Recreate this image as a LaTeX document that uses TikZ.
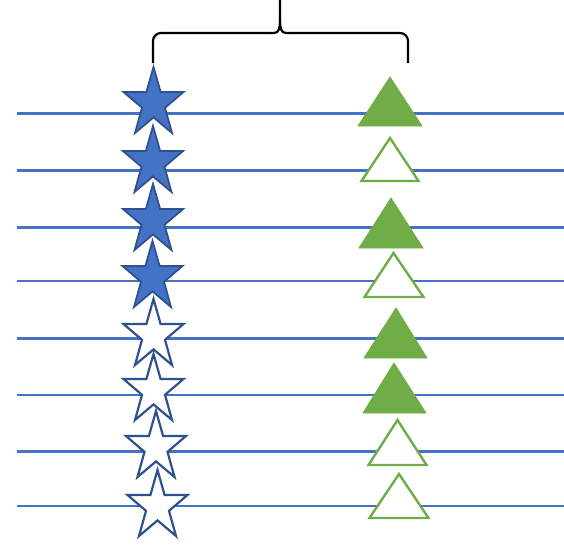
\documentclass[tikz,border=0pt]{standalone}
\usetikzlibrary{calc}
\definecolor{rulecol}{HTML}{4472C4}
\definecolor{starfill}{HTML}{4472C4}
\definecolor{starrim}{HTML}{2F528F}
\definecolor{trigreen}{HTML}{70AD47}
\tikzset{
  rowline/.style={draw=rulecol, line width=2.2pt},
  bracepath/.style={draw=black, line width=2.2pt},
  starfull/.style={draw=starrim, fill=starfill, line width=1.8pt, line join=miter},
  starhollow/.style={draw=starrim, fill=white, line width=2.2pt, line join=miter},
  trifull/.style={draw=trigreen, fill=trigreen, line width=0.8pt, line join=miter},
  trihollow/.style={draw=trigreen, fill=white, line width=2.4pt, line join=miter},
  % five-pointed star, origin at the top point, y growing downwards
  pics/starmark/.style={code={
    \path[#1] (0,0) -- (7.1,25) -- (30,25) -- (11.5,40.8) -- (18.5,66)
      -- (0,50.4) -- (-18.5,66) -- (-11.5,40.8) -- (-30,25) -- (-7.1,25) -- cycle;
  }},
}
\begin{document}
\begin{tikzpicture}[x=1pt, y=-1pt]
\useasboundingbox (0,0) rectangle (564,547);

% horizontal rows
\foreach \yy in {113.5,170.5,227.5,281,338.5,395,451.5,506}
  \draw[rowline] (17,\yy) -- (564,\yy);

% curly brace over both columns
\draw[bracepath, rounded corners=8pt] (153,63) -- (153,33) -- (268,33);
\draw[bracepath] (268,33) -- (274,33) .. controls (279,33) and (280,28) .. (280,20) -- (280,0);
\draw[bracepath, rounded corners=8pt] (408,63) -- (408,33) -- (292,33);
\draw[bracepath] (292,33) -- (286,33) .. controls (281,33) and (280,28) .. (280,20);

% column of stars
\pic at (153.5,67)  {starmark=starfull};
\pic at (153,126)   {starmark=starfull};
\pic at (153,184)   {starmark=starfull};
\pic at (152.5,241) {starmark=starfull};
\pic at (153.5,299) {starmark=starhollow};
\pic at (153.5,354) {starmark=starhollow};
\pic at (156,411)   {starmark=starhollow};
\pic at (157.5,470) {starmark=starhollow};

% column of triangles
\draw[trifull]   (390,77)    -- (358,126)   -- (422,126)   -- cycle;
\draw[trihollow] (390,138)   -- (361.5,181) -- (418.5,181) -- cycle;
\draw[trifull]   (391,198)   -- (359,248)   -- (423,248)   -- cycle;
\draw[trihollow] (393.5,253) -- (364.5,297) -- (423.5,297) -- cycle;
\draw[trifull]   (396,308)   -- (364,358)   -- (427,358)   -- cycle;
\draw[trifull]   (394,363)   -- (363,413)   -- (426,413)   -- cycle;
\draw[trihollow] (397.5,420) -- (368.5,465) -- (426.5,465) -- cycle;
\draw[trihollow] (399,474)   -- (369.5,518) -- (428.5,518) -- cycle;
\end{tikzpicture}
\end{document}
